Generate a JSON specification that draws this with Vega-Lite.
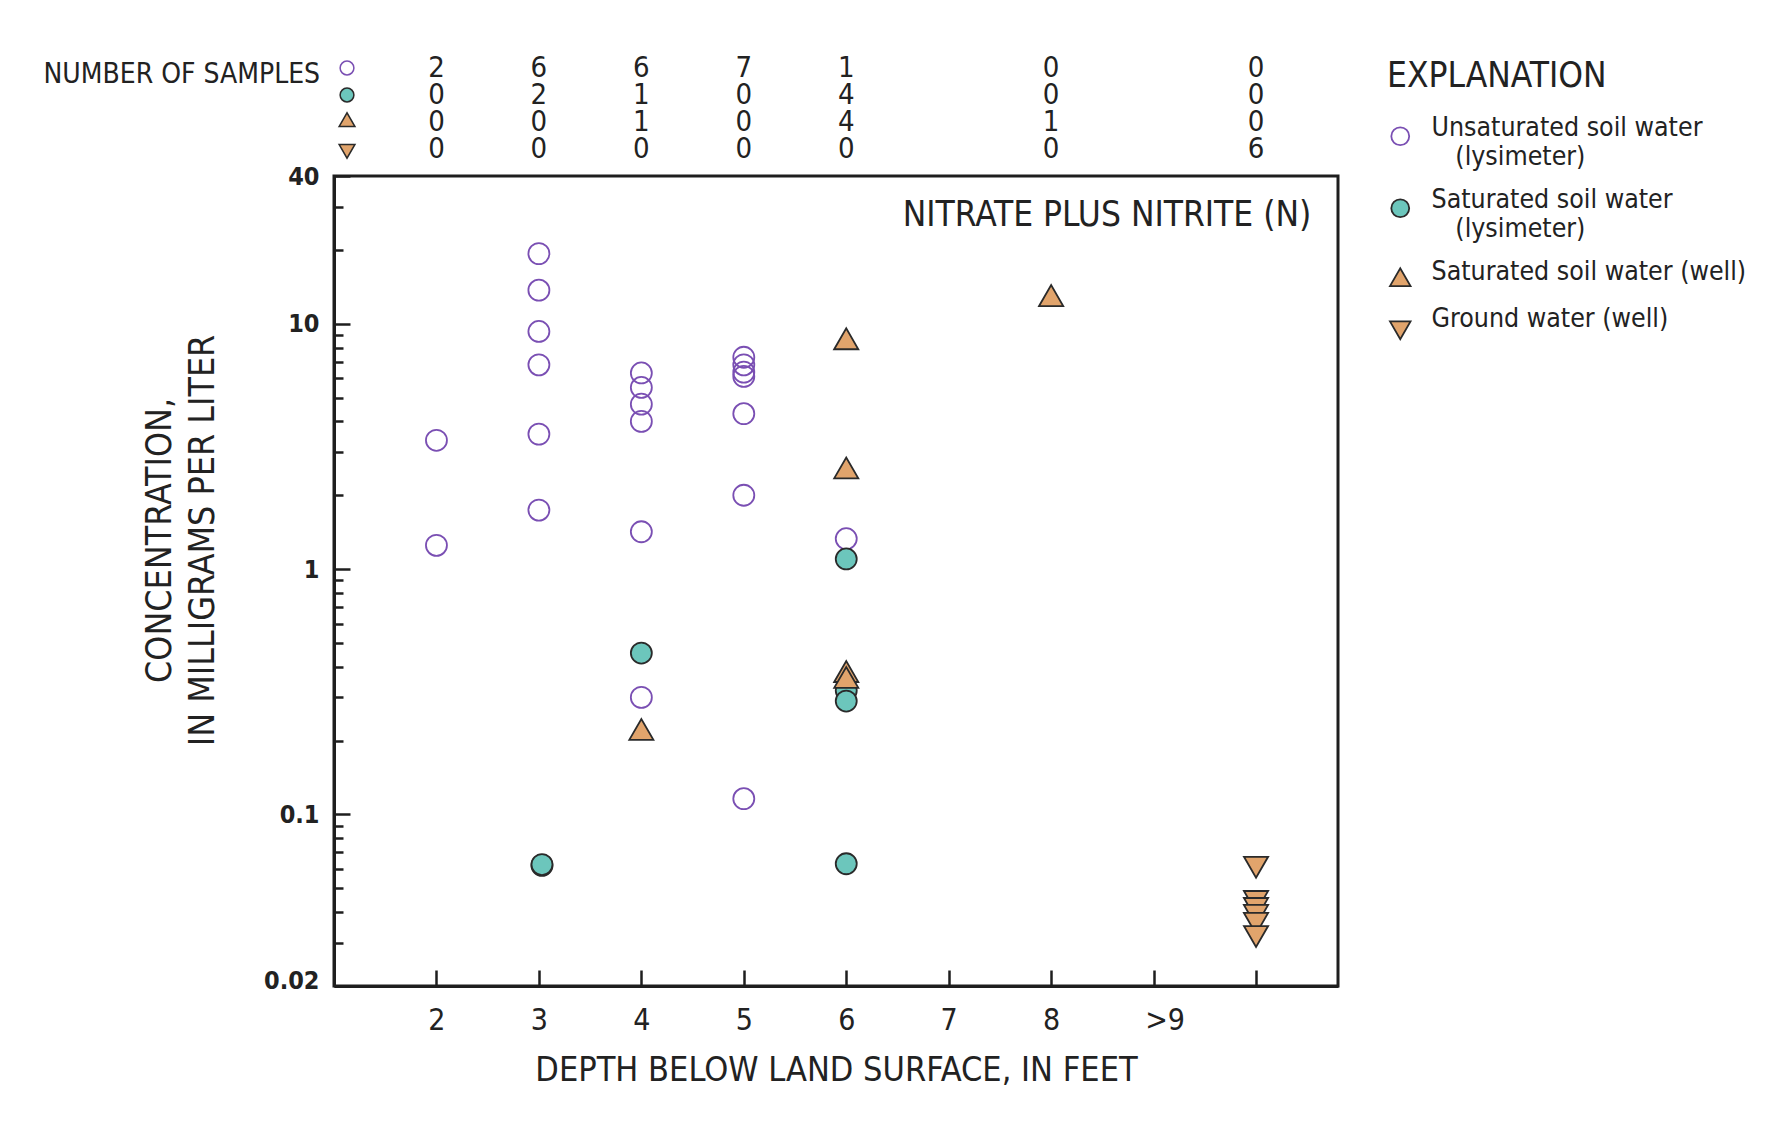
{
  "$schema": "https://vega.github.io/schema/vega-lite/v6.json",
  "width": 1004,
  "height": 810,
  "autosize": {"type": "none"},
  "padding": {"left": 334, "top": 176, "right": 442, "bottom": 137},
  "background": "white",
  "config": {
    "font": "DejaVu Sans Condensed, DejaVu Sans, sans-serif",
    "view": {"stroke": "#1e1e1e", "strokeWidth": 3},
    "axis": {"grid": false, "domainColor": "#1e1e1e", "domainWidth": 3, "tickColor": "#1e1e1e", "tickWidth": 2.5, "labelColor": "#222222", "titleColor": "#222222", "titleFontWeight": "normal", "labelOverlap": false},
    "text": {"color": "#222222"}
  },
  "datasets": {
    "samples": [
      {"depth": 2, "conc": 3.35, "type": "Unsaturated soil water (lysimeter)"},
      {"depth": 2, "conc": 1.25, "type": "Unsaturated soil water (lysimeter)"},
      {"depth": 3, "conc": 19.3, "type": "Unsaturated soil water (lysimeter)"},
      {"depth": 3, "conc": 13.7, "type": "Unsaturated soil water (lysimeter)"},
      {"depth": 3, "conc": 9.3, "type": "Unsaturated soil water (lysimeter)"},
      {"depth": 3, "conc": 6.8, "type": "Unsaturated soil water (lysimeter)"},
      {"depth": 3, "conc": 3.55, "type": "Unsaturated soil water (lysimeter)"},
      {"depth": 3, "conc": 1.74, "type": "Unsaturated soil water (lysimeter)"},
      {"depth": 4, "conc": 6.3, "type": "Unsaturated soil water (lysimeter)"},
      {"depth": 4, "conc": 5.5, "type": "Unsaturated soil water (lysimeter)"},
      {"depth": 4, "conc": 4.7, "type": "Unsaturated soil water (lysimeter)"},
      {"depth": 4, "conc": 4.0, "type": "Unsaturated soil water (lysimeter)"},
      {"depth": 4, "conc": 1.42, "type": "Unsaturated soil water (lysimeter)"},
      {"depth": 4, "conc": 0.3, "type": "Unsaturated soil water (lysimeter)"},
      {"depth": 5, "conc": 7.3, "type": "Unsaturated soil water (lysimeter)"},
      {"depth": 5, "conc": 6.8, "type": "Unsaturated soil water (lysimeter)"},
      {"depth": 5, "conc": 6.35, "type": "Unsaturated soil water (lysimeter)"},
      {"depth": 5, "conc": 6.1, "type": "Unsaturated soil water (lysimeter)"},
      {"depth": 5, "conc": 4.3, "type": "Unsaturated soil water (lysimeter)"},
      {"depth": 5, "conc": 2.0, "type": "Unsaturated soil water (lysimeter)"},
      {"depth": 5, "conc": 0.116, "type": "Unsaturated soil water (lysimeter)"},
      {"depth": 6, "conc": 1.33, "type": "Unsaturated soil water (lysimeter)"},
      {"depth": 3.03, "conc": 0.062, "type": "Saturated soil water (lysimeter)"},
      {"depth": 3.03, "conc": 0.0625, "type": "Saturated soil water (lysimeter)"},
      {"depth": 4, "conc": 0.455, "type": "Saturated soil water (lysimeter)"},
      {"depth": 6, "conc": 1.1, "type": "Saturated soil water (lysimeter)"},
      {"depth": 6, "conc": 0.32, "type": "Saturated soil water (lysimeter)"},
      {"depth": 6, "conc": 0.29, "type": "Saturated soil water (lysimeter)"},
      {"depth": 6, "conc": 0.063, "type": "Saturated soil water (lysimeter)"},
      {"depth": 4, "conc": 0.215, "type": "Saturated soil water (well)"},
      {"depth": 6, "conc": 8.4, "type": "Saturated soil water (well)"},
      {"depth": 6, "conc": 2.5, "type": "Saturated soil water (well)"},
      {"depth": 6, "conc": 0.37, "type": "Saturated soil water (well)"},
      {"depth": 6, "conc": 0.35, "type": "Saturated soil water (well)"},
      {"depth": 8, "conc": 12.6, "type": "Saturated soil water (well)"},
      {"depth": 10, "conc": 0.063, "type": "Ground water (well)"},
      {"depth": 10, "conc": 0.0457, "type": "Ground water (well)"},
      {"depth": 10, "conc": 0.0428, "type": "Ground water (well)"},
      {"depth": 10, "conc": 0.0401, "type": "Ground water (well)"},
      {"depth": 10, "conc": 0.0372, "type": "Ground water (well)"},
      {"depth": 10, "conc": 0.0329, "type": "Ground water (well)"}
    ],
    "annotation": [
      {"depth": 10.54, "conc": 27.8, "label": "NITRATE PLUS NITRITE (N)"}
    ],
    "counts": [
      {"depth": 2, "row": 1, "n": "2"}, {"depth": 2, "row": 2, "n": "0"}, {"depth": 2, "row": 3, "n": "0"}, {"depth": 2, "row": 4, "n": "0"},
      {"depth": 3, "row": 1, "n": "6"}, {"depth": 3, "row": 2, "n": "2"}, {"depth": 3, "row": 3, "n": "0"}, {"depth": 3, "row": 4, "n": "0"},
      {"depth": 4, "row": 1, "n": "6"}, {"depth": 4, "row": 2, "n": "1"}, {"depth": 4, "row": 3, "n": "1"}, {"depth": 4, "row": 4, "n": "0"},
      {"depth": 5, "row": 1, "n": "7"}, {"depth": 5, "row": 2, "n": "0"}, {"depth": 5, "row": 3, "n": "0"}, {"depth": 5, "row": 4, "n": "0"},
      {"depth": 6, "row": 1, "n": "1"}, {"depth": 6, "row": 2, "n": "4"}, {"depth": 6, "row": 3, "n": "4"}, {"depth": 6, "row": 4, "n": "0"},
      {"depth": 8, "row": 1, "n": "0"}, {"depth": 8, "row": 2, "n": "0"}, {"depth": 8, "row": 3, "n": "1"}, {"depth": 8, "row": 4, "n": "0"},
      {"depth": 10, "row": 1, "n": "0"}, {"depth": 10, "row": 2, "n": "0"}, {"depth": 10, "row": 3, "n": "0"}, {"depth": 10, "row": 4, "n": "6"}
    ],
    "keys": [
      {"depth": 1.127, "row": 1, "type": "Unsaturated soil water (lysimeter)"},
      {"depth": 1.127, "row": 2, "type": "Saturated soil water (lysimeter)"},
      {"depth": 1.127, "row": 3, "type": "Saturated soil water (well)"},
      {"depth": 1.127, "row": 4, "type": "Ground water (well)"}
    ],
    "headerLabel": [
      {"depth": 0.864, "row": 1.25, "label": "NUMBER OF SAMPLES"}
    ]
  },
  "encoding": {
    "x": {
      "field": "depth", "type": "quantitative",
      "scale": {"domain": [1, 10.8], "nice": false, "zero": false},
      "axis": {
        "title": "DEPTH BELOW LAND SURFACE, IN FEET",
        "values": [2, 3, 4, 5, 6, 7, 8, 9, 10],
        "labelExpr": "datum.value == 9 ? '>9' : datum.value == 10 ? '' : '' + datum.value",
        "labelOffset": {"condition": {"test": "datum.value == 9", "value": 11}, "value": 0},
        "tickSize": -16,
        "labelFontSize": 30,
        "labelPadding": 35,
        "titleFontSize": 34,
        "titleY": 67
      }
    }
  },
  "layer": [
    {
      "encoding": {
        "y": {
          "field": "conc", "type": "quantitative",
          "scale": {"type": "log", "domain": [0.02, 40], "nice": false},
          "axis": {
            "title": ["CONCENTRATION,", "IN MILLIGRAMS PER LITER"],
            "values": [40, 30, 20, 10, 9, 8, 7, 6, 5, 4, 3, 2, 1, 0.9, 0.8, 0.7, 0.6, 0.5, 0.4, 0.3, 0.2, 0.1, 0.09, 0.08, 0.07, 0.06, 0.05, 0.04, 0.03, 0.02],
            "labelExpr": "datum.value == 40 ? '40' : datum.value == 10 ? '10' : datum.value == 1 ? '1' : datum.value == 0.1 ? '0.1' : datum.value == 0.02 ? '0.02' : ''",
            "tickSize": {"condition": {"test": "indexof([40, 10, 1, 0.1, 0.02], datum.value) >= 0", "value": -16}, "value": -9},
            "labelOffset": {"condition": {"test": "datum.value == 0.02", "value": -6}, "value": 0},
            "labelFontSize": 25,
            "labelFontWeight": "bold",
            "labelPadding": 31,
            "titleFontSize": 35.5,
            "titleLineHeight": 43,
            "titleX": -157,
            "titleY": 364
          }
        }
      },
      "layer": [
        {
          "data": {"name": "samples"},
          "mark": {"type": "point", "filled": true, "size": 441, "strokeWidth": 1.8, "opacity": 1},
          "encoding": {
            "fill": {"field": "type", "type": "nominal",
              "scale": {"domain": ["Unsaturated soil water (lysimeter)", "Saturated soil water (lysimeter)", "Saturated soil water (well)", "Ground water (well)"], "range": ["transparent", "#6cc6bc", "#e1a46c", "#e1a46c"]},
              "legend": {"title": "EXPLANATION", "orient": "none", "legendX": 1053, "legendY": -117, "padding": 0, "titleFontSize": 35, "titleLimit": 600, "titleFontWeight": "normal", "titleColor": "#222222", "titlePadding": 29, "labelFontSize": 26.5, "labelColor": "#222222", "labelLimit": 600, "labelOffset": 18, "labelBaseline": "alphabetic", "symbolSize": 320, "symbolStrokeWidth": 1.8, "rowPadding": 16, "labelExpr": "datum.value == 'Unsaturated soil water (lysimeter)' ? ['Unsaturated soil water', '\u200b\u2002\u2002(lysimeter)'] : datum.value == 'Saturated soil water (lysimeter)' ? ['Saturated soil water', '\u200b\u2002\u2002(lysimeter)'] : datum.value"}},
            "stroke": {"field": "type", "type": "nominal",
              "scale": {"domain": ["Unsaturated soil water (lysimeter)", "Saturated soil water (lysimeter)", "Saturated soil water (well)", "Ground water (well)"], "range": ["#7a4fb3", "#2a2a2a", "#2a2a2a", "#2a2a2a"]},
              "legend": {"title": "EXPLANATION", "orient": "none", "legendX": 1053, "legendY": -117, "padding": 0, "titleFontSize": 35, "titleLimit": 600, "titleFontWeight": "normal", "titleColor": "#222222", "titlePadding": 29, "labelFontSize": 26.5, "labelColor": "#222222", "labelLimit": 600, "labelOffset": 18, "labelBaseline": "alphabetic", "symbolSize": 320, "symbolStrokeWidth": 1.8, "rowPadding": 16, "labelExpr": "datum.value == 'Unsaturated soil water (lysimeter)' ? ['Unsaturated soil water', '\u200b\u2002\u2002(lysimeter)'] : datum.value == 'Saturated soil water (lysimeter)' ? ['Saturated soil water', '\u200b\u2002\u2002(lysimeter)'] : datum.value"}},
            "shape": {"field": "type", "type": "nominal",
              "scale": {"domain": ["Unsaturated soil water (lysimeter)", "Saturated soil water (lysimeter)", "Saturated soil water (well)", "Ground water (well)"], "range": ["circle", "circle", "M-1.15,0.66L0,-1.33L1.15,0.66Z", "M-1.15,-0.66L0,1.33L1.15,-0.66Z"]},
              "legend": {"title": "EXPLANATION", "orient": "none", "legendX": 1053, "legendY": -117, "padding": 0, "titleFontSize": 35, "titleLimit": 600, "titleFontWeight": "normal", "titleColor": "#222222", "titlePadding": 29, "labelFontSize": 26.5, "labelColor": "#222222", "labelLimit": 600, "labelOffset": 18, "labelBaseline": "alphabetic", "symbolSize": 320, "symbolStrokeWidth": 1.8, "rowPadding": 16, "labelExpr": "datum.value == 'Unsaturated soil water (lysimeter)' ? ['Unsaturated soil water', '\u200b\u2002\u2002(lysimeter)'] : datum.value == 'Saturated soil water (lysimeter)' ? ['Saturated soil water', '\u200b\u2002\u2002(lysimeter)'] : datum.value"}}
          }
        },
        {
          "data": {"name": "annotation"},
          "mark": {"type": "text", "align": "right", "baseline": "middle", "fontSize": 35},
          "encoding": {"text": {"field": "label"}}
        }
      ]
    },
    {
      "encoding": {
        "y": {"field": "row", "type": "quantitative", "scale": {"domain": [1, 4], "range": [-108, -27], "nice": false, "zero": false}, "axis": null}
      },
      "layer": [
        {
          "data": {"name": "counts"},
          "mark": {"type": "text", "align": "center", "baseline": "middle", "fontSize": 29},
          "encoding": {"text": {"field": "n"}}
        },
        {
          "data": {"name": "headerLabel"},
          "mark": {"type": "text", "align": "right", "baseline": "middle", "fontSize": 28},
          "encoding": {"text": {"field": "label"}}
        },
        {
          "data": {"name": "keys"},
          "mark": {"type": "point", "filled": true, "size": 190, "strokeWidth": 1.5, "opacity": 1},
          "encoding": {
            "fill": {"field": "type", "type": "nominal",
              "scale": {"domain": ["Unsaturated soil water (lysimeter)", "Saturated soil water (lysimeter)", "Saturated soil water (well)", "Ground water (well)"], "range": ["transparent", "#6cc6bc", "#e1a46c", "#e1a46c"]},
              "legend": {"title": "EXPLANATION", "orient": "none", "legendX": 1053, "legendY": -117, "padding": 0, "titleFontSize": 35, "titleLimit": 600, "titleFontWeight": "normal", "titleColor": "#222222", "titlePadding": 29, "labelFontSize": 26.5, "labelColor": "#222222", "labelLimit": 600, "labelOffset": 18, "labelBaseline": "alphabetic", "symbolSize": 320, "symbolStrokeWidth": 1.8, "rowPadding": 16, "labelExpr": "datum.value == 'Unsaturated soil water (lysimeter)' ? ['Unsaturated soil water', '\u200b\u2002\u2002(lysimeter)'] : datum.value == 'Saturated soil water (lysimeter)' ? ['Saturated soil water', '\u200b\u2002\u2002(lysimeter)'] : datum.value"}},
            "stroke": {"field": "type", "type": "nominal",
              "scale": {"domain": ["Unsaturated soil water (lysimeter)", "Saturated soil water (lysimeter)", "Saturated soil water (well)", "Ground water (well)"], "range": ["#7a4fb3", "#2a2a2a", "#2a2a2a", "#2a2a2a"]},
              "legend": {"title": "EXPLANATION", "orient": "none", "legendX": 1053, "legendY": -117, "padding": 0, "titleFontSize": 35, "titleLimit": 600, "titleFontWeight": "normal", "titleColor": "#222222", "titlePadding": 29, "labelFontSize": 26.5, "labelColor": "#222222", "labelLimit": 600, "labelOffset": 18, "labelBaseline": "alphabetic", "symbolSize": 320, "symbolStrokeWidth": 1.8, "rowPadding": 16, "labelExpr": "datum.value == 'Unsaturated soil water (lysimeter)' ? ['Unsaturated soil water', '\u200b\u2002\u2002(lysimeter)'] : datum.value == 'Saturated soil water (lysimeter)' ? ['Saturated soil water', '\u200b\u2002\u2002(lysimeter)'] : datum.value"}},
            "shape": {"field": "type", "type": "nominal",
              "scale": {"domain": ["Unsaturated soil water (lysimeter)", "Saturated soil water (lysimeter)", "Saturated soil water (well)", "Ground water (well)"], "range": ["circle", "circle", "M-1.15,0.66L0,-1.33L1.15,0.66Z", "M-1.15,-0.66L0,1.33L1.15,-0.66Z"]},
              "legend": {"title": "EXPLANATION", "orient": "none", "legendX": 1053, "legendY": -117, "padding": 0, "titleFontSize": 35, "titleLimit": 600, "titleFontWeight": "normal", "titleColor": "#222222", "titlePadding": 29, "labelFontSize": 26.5, "labelColor": "#222222", "labelLimit": 600, "labelOffset": 18, "labelBaseline": "alphabetic", "symbolSize": 320, "symbolStrokeWidth": 1.8, "rowPadding": 16, "labelExpr": "datum.value == 'Unsaturated soil water (lysimeter)' ? ['Unsaturated soil water', '\u200b\u2002\u2002(lysimeter)'] : datum.value == 'Saturated soil water (lysimeter)' ? ['Saturated soil water', '\u200b\u2002\u2002(lysimeter)'] : datum.value"}}
          }
        }
      ]
    }
  ],
  "resolve": {"scale": {"y": "independent"}, "axis": {"y": "independent"}}
}
